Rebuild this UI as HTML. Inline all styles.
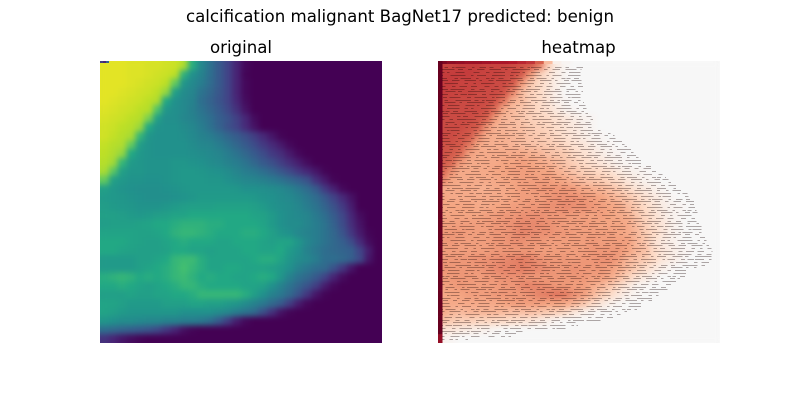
<!DOCTYPE html>
<html lang="en">
<head>
<meta charset="utf-8">
<title>calcification malignant BagNet17 predicted: benign</title>
<style>
html,body{margin:0;padding:0;background:#fff;width:800px;height:400px;overflow:hidden}
svg{display:block}
text{font-family:"DejaVu Sans","Liberation Sans",sans-serif;font-size:16.62px;fill:#000;text-anchor:middle}
</style>
</head>
<body>
<svg id="fig" width="800" height="400" viewBox="0 0 800 400" xmlns="http://www.w3.org/2000/svg">
  <defs>
    <clipPath id="clipA"><rect x="100" y="61" width="282" height="282"/></clipPath>
    <clipPath id="clipB"><rect x="438" y="61" width="282" height="282"/></clipPath>
    <filter id="soft" filterUnits="userSpaceOnUse" x="60" y="20" width="700" height="360" color-interpolation-filters="sRGB">
      <feGaussianBlur stdDeviation="2.8"/>
      <feComponentTransfer><feFuncA type="linear" slope="50"/></feComponentTransfer>
    </filter>
  </defs>
  <text x="400" y="22">calcification malignant BagNet17 predicted: benign</text>
  <text x="241" y="53">original</text>
  <text x="578.5" y="53">heatmap</text>
  <g clip-path="url(#clipA)"><g id="origCells" filter="url(#soft)"></g><g id="origEdge"></g></g>
  <g clip-path="url(#clipB)"><g id="heatCells" filter="url(#soft)"></g><g id="heatEdge"></g><path id="stipple" fill="none" stroke="#1a0505" stroke-opacity="0.34" stroke-width="1" shape-rendering="crispEdges"/></g>
</svg>
<script>
// Image intensity (0-100), 32 x 32 cells; omitted trailing cells are 0.
const originalGrid = [
[96,96,96,95,95,94,94,93,92,88,62,46,37,28,20,10,2],
[96,96,96,95,95,94,93,92,90,64,50,44,36,28,20,10,1],
[96,96,96,95,94,93,92,90,76,52,47,42,35,28,20,10,2],
[96,96,95,94,93,92,90,84,56,48,45,38,33,27,20,10,2],
[96,95,94,93,92,90,88,60,50,47,44,36,31,26,20,11,3],
[95,94,93,92,90,89,72,52,49,47,43,38,33,28,22,14,5],
[94,93,92,90,89,80,56,49,49,46,44,40,36,30,26,19,11,3],
[93,92,90,89,85,60,51,50,50,48,46,42,37,31,25,20,12,5],
[93,91,89,87,66,52,50,50,50,49,47,44,42,38,33,29,24,18,12,6,1],
[91,89,88,76,55,51,50,50,50,50,48,46,45,42,38,33,28,23,17,12,7,2],
[90,88,84,60,53,51,50,50,50,50,49,48,47,45,42,38,33,28,23,17,13,7,2],
[89,86,66,54,52,51,51,51,52,52,51,50,48,47,44,42,38,33,28,24,18,13,8,3],
[87,74,56,52,52,51,51,51,52,53,53,52,51,50,48,45,42,40,36,32,27,22,16,11,6,1],
[76,56,53,51,51,50,50,51,52,53,53,53,52,52,50,48,46,45,43,41,38,34,30,25,14,7,1],
[56,53,51,50,49,49,49,50,51,52,53,53,53,53,53,52,50,50,49,48,47,44,40,35,28,17,9,2],
[54,53,52,51,50,49,49,49,50,51,52,54,54,54,54,54,54,53,51,50,48,47,44,40,35,28,20,12,5],
[55,54,53,52,51,51,51,52,54,55,56,56,56,57,57,57,57,56,54,51,49,48,46,42,38,32,25,17,8],
[56,56,55,54,53,54,55,56,58,58,60,60,60,60,60,60,60,58,57,54,50,48,47,45,41,36,29,21,11,3],
[55,56,56,56,57,58,60,60,62,64,64,64,62,62,60,60,60,60,58,54,50,48,48,45,42,38,31,23,13,5],
[58,58,58,58,57,57,58,60,64,66,66,64,62,60,60,60,62,62,60,56,52,50,46,44,42,38,33,26,16,7,1],
[60,60,60,58,57,56,56,58,60,62,60,60,60,58,58,60,60,60,58,56,58,58,52,46,42,38,34,30,23,12,3],
[60,60,58,57,56,56,56,57,60,60,58,58,56,58,58,58,60,60,58,58,60,54,50,44,40,36,34,32,30,20,8],
[54,54,54,54,56,56,58,60,66,68,68,62,58,58,58,58,58,60,62,62,58,52,48,46,42,36,36,34,30,22,6],
[54,54,54,54,56,58,60,62,66,70,66,62,58,58,60,60,58,58,58,56,54,50,44,40,36,34,26,16,6],
[62,64,66,64,60,62,60,62,66,68,64,60,62,60,60,58,58,60,62,60,52,44,38,34,28,20,10,3],
[60,60,62,60,58,56,58,60,62,66,66,62,60,60,60,60,58,58,56,50,44,38,32,26,18,8,2],
[56,56,56,58,56,56,58,58,60,60,62,66,66,66,66,66,62,56,50,44,40,34,26,16,6,1],
[58,58,56,54,54,54,54,56,56,56,58,58,56,56,54,52,48,44,40,34,28,18,8,2],
[58,56,54,52,52,52,52,52,52,50,50,50,50,48,46,42,38,34,24,14,5,1],
[52,50,48,48,47,46,46,44,44,42,42,40,36,28,18,8,2],
[36,34,32,30,28,26,22,16,10,4,1],
[14,10,6,3,1]
];
// Heatmap relevance (50 = neutral, 100 = strongest), 32 x 32 cells; omitted trailing cells are 50.
const heatmapGrid = [
[84,84,85,85,85,84,84,84,83,82,81,76,62,54,51],
[85,85,85,85,84,84,84,83,83,81,72,62,58,54,51],
[85,85,84,84,84,84,83,83,81,72,64,60,57,53,51],
[85,84,84,84,83,83,83,82,75,66,62,60,56,53],
[84,84,83,83,83,83,82,77,68,66,62,60,57,53,51],
[84,83,83,83,83,82,78,69,66,64,62,60,58,55,52,51],
[83,83,83,83,82,80,71,67,66,64,62,61,60,58,56,54,52,51],
[83,83,83,82,81,73,68,67,66,65,63,62,61,59,57,55,53,51],
[83,83,82,81,75,69,68,68,67,66,64,63,62,60,58,56,54,52,51],
[82,82,81,77,70,68,68,68,67,66,65,64,63,62,60,58,56,54,52,51],
[82,81,79,71,69,69,69,69,69,69,68,67,65,64,63,60,58,56,54,52,51],
[81,79,72,69,69,69,69,70,70,71,70,69,68,66,64,62,60,58,56,54,52,51],
[79,73,69,69,69,69,70,70,71,71,71,70,70,68,66,64,62,61,60,58,55,53,52,51],
[75,70,69,69,69,69,69,70,70,71,71,71,71,70,69,67,65,64,63,61,59,56,54,52,51],
[69,69,69,69,68,68,69,69,70,71,71,72,72,72,72,71,69,68,67,65,63,60,57,55,53,51],
[70,69,69,69,69,69,69,69,70,71,71,71,72,73,73,73,72,71,70,68,66,64,61,58,55,53,51],
[70,70,70,70,69,69,70,70,71,71,72,72,73,73,74,73,73,72,71,70,69,66,63,60,57,54,52,51],
[70,70,70,70,70,71,71,72,72,73,73,73,72,72,72,71,71,70,71,70,69,68,64,61,58,55,52,51],
[71,71,71,71,71,71,72,72,73,74,74,74,73,72,71,71,71,71,70,70,70,69,66,62,59,56,53,51],
[72,72,72,71,71,71,72,72,73,75,74,73,73,72,72,71,71,71,71,71,70,69,67,63,60,56,53,51],
[72,72,71,71,71,71,72,72,73,73,72,72,71,71,71,71,71,72,71,71,71,71,67,64,58,55,53,51],
[71,71,71,71,71,71,72,72,72,72,72,71,71,71,71,71,71,72,72,72,72,70,67,65,60,56,54,52,51],
[72,72,72,72,73,73,73,74,75,76,75,73,72,72,72,71,72,72,73,73,71,67,65,63,60,56,54,52],
[73,72,72,72,72,73,74,75,75,76,75,74,73,72,72,73,72,72,72,71,69,66,63,60,56,53,51],
[71,72,72,72,71,72,72,73,73,73,72,72,72,72,72,72,72,71,71,69,66,62,58,55,52],
[71,71,72,71,71,71,71,72,72,74,75,74,73,72,72,71,71,69,67,64,60,56,52,51],
[69,70,70,71,71,71,72,72,72,72,73,75,76,77,76,73,71,67,63,60,56,53,51],
[69,69,69,69,69,69,69,70,71,71,71,71,70,70,69,67,64,60,56,53,51],
[69,67,66,67,67,67,67,66,65,65,65,64,63,62,60,56,53,51],
[65,63,62,62,61,61,60,60,59,58,57,55,53,51],
[57,56,55,54,53,52,51],
[52,51]
];
// Thin bright borders of the heatmap, sampled along the top and the left side.
const heatmapTopEdge = [97,95,94,93,93,92,91,91,90,88,86,80,66,53,51];
const heatmapLeftEdge = [100,100,100,100,100,100,100,100,100,100,100,100,100,100,100,100,100,100,100,100,100,100,100,100,100,100,100,100,100,100,100,94];
const originalTopEdge = [18,10,30];
// Repeating dash texture for the heatmap contour speckle ('-' = ink).
const dashTile = [
"-------    ---   ------------     --  ------     ---  ----- ",
"   ---  ---------     ---   ----------    -- -------        ",
"--------     --    -----   ---      ------------   ---   -- ",
"  --    --------------   ----    ---    ------    --------- ",
"-----     ---   ---------     -------  --     -------       ",
"     ------------    --   -------     ----------    ---  -- ",
"---   ----     ----------      ---  --------    --      --- ",
"  ---------   --     ----  ------------     -----   ------  ",
"----     -----------     ---    --    -----------      ---  ",
"    ----    ---   ---------------     ---   ------   -----  ",
"-----------     ---    ----     -------      --  ---------  ",
"  --   -------     --------  ---     --------------    --   "
];
const viridisStops = ["#440154","#482475","#414487","#355f8d","#2a788e","#21918c","#22a884","#44bf70","#7ad151","#bddf26","#fde725"];
const rdbuStops = ["#f7f7f7","#fddbc7","#f4a582","#d6604d","#b2182b","#67001f"];

const SIZE = 282, ORIG_X = 100, HEAT_X = 438, TOP = 61;
const NS = "http://www.w3.org/2000/svg";

function hexRgb(h){return [1,3,5].map(i=>parseInt(h.substr(i,2),16));}
function ramp(stops,t){
  t = Math.max(0,Math.min(1,t))*(stops.length-1);
  const i = Math.min(stops.length-2,Math.floor(t)), f = t-i;
  const a = hexRgb(stops[i]), b = hexRgb(stops[i+1]);
  return "rgb("+a.map((v,k)=>Math.round(v+(b[k]-v)*f)).join(",")+")";
}
function origColor(v){return ramp(viridisStops,v/100);}
function heatColor(v){return ramp(rdbuStops,(v-50)/50);}

function drawGrid(parent,grid,x0,blank,color,cellName){
  const n = grid.length, cell = SIZE/n;
  for(let r=0;r<n;r++){
    for(let c=0;c<n;c++){
      const v = grid[r][c]===undefined ? blank : grid[r][c];
      const el = document.createElementNS(NS,"rect");
      
      
      el.setAttribute("x",(x0+c*cell).toFixed(2));
      el.setAttribute("y",(TOP+r*cell).toFixed(2));
      el.setAttribute("width",(cell+0.6).toFixed(2));
      el.setAttribute("height",(cell+0.6).toFixed(2));
      el.setAttribute("fill",color(v));
      el.setAttribute("shape-rendering","crispEdges");
      parent.appendChild(el);
    }
  }
}
drawGrid(document.getElementById("origCells"),originalGrid,ORIG_X,0,origColor,"original-cell");
drawGrid(document.getElementById("heatCells"),heatmapGrid,HEAT_X,50,heatColor,"heatmap-cell");

function edgeRect(parent,x,y,w,h,fill,name){
  const el = document.createElementNS(NS,"rect");
  
  
  el.setAttribute("x",x);
  el.setAttribute("y",y);
  el.setAttribute("width",w);
  el.setAttribute("height",h);
  el.setAttribute("fill",fill);
  parent.appendChild(el);
}
const heatEdge = document.getElementById("heatEdge");
const edgeCell = SIZE/32;
heatmapTopEdge.forEach((v,i)=>edgeRect(heatEdge,HEAT_X+i*edgeCell,TOP,edgeCell+0.3,3,heatColor(v),"heatmap-top-edge"));
heatmapLeftEdge.forEach((v,i)=>{
  edgeRect(heatEdge,HEAT_X,TOP+i*edgeCell,4.5,edgeCell+0.3,heatColor(v),"heatmap-left-edge");
});
originalTopEdge.forEach((v,i)=>edgeRect(document.getElementById("origEdge"),ORIG_X+i*3,TOP,3,2,origColor(v),"original-top-corner"));

// Contour speckle: dashes are inked only where the breast tissue exists in the original grid.
function sampleOriginal(px,py){
  const n = originalGrid.length, cell = SIZE/n;
  const fx = Math.max(0,Math.min(n-1.001,px/cell-0.5)), fy = Math.max(0,Math.min(n-1.001,py/cell-0.5));
  const c = Math.floor(fx), r = Math.floor(fy), u = fx-c, w = fy-r;
  const g = (a,b)=>originalGrid[a][b]||0;
  return (g(r,c)*(1-u)+g(r,c+1)*u)*(1-w)+(g(r+1,c)*(1-u)+g(r+1,c+1)*u)*w;
}
let d = "";
const stepX = 1.26, stepY = 2.75;
const rowCount = Math.floor(SIZE/stepY);
for(let i=2;i<rowCount;i++){
  const tile = dashTile[i%dashTile.length], shift = (i*23)%tile.length;
  const colCount = Math.floor(SIZE/stepX);
  const y = Math.round(TOP+i*stepY)+0.5;
  let start = -1;
  for(let k=3;k<=colCount;k++){
    const ink = k<colCount && tile[(k+shift)%tile.length]==="-" && sampleOriginal(k*stepX,i*stepY)>3.5;
    if(ink && start<0) start = k;
    if(!ink && start>=0){
      d += "M"+(HEAT_X+start*stepX).toFixed(1)+" "+y+"H"+(HEAT_X+k*stepX).toFixed(1);
      start = -1;
    }
  }
}
document.getElementById("stipple").setAttribute("d",d);
</script>
</body>
</html>
